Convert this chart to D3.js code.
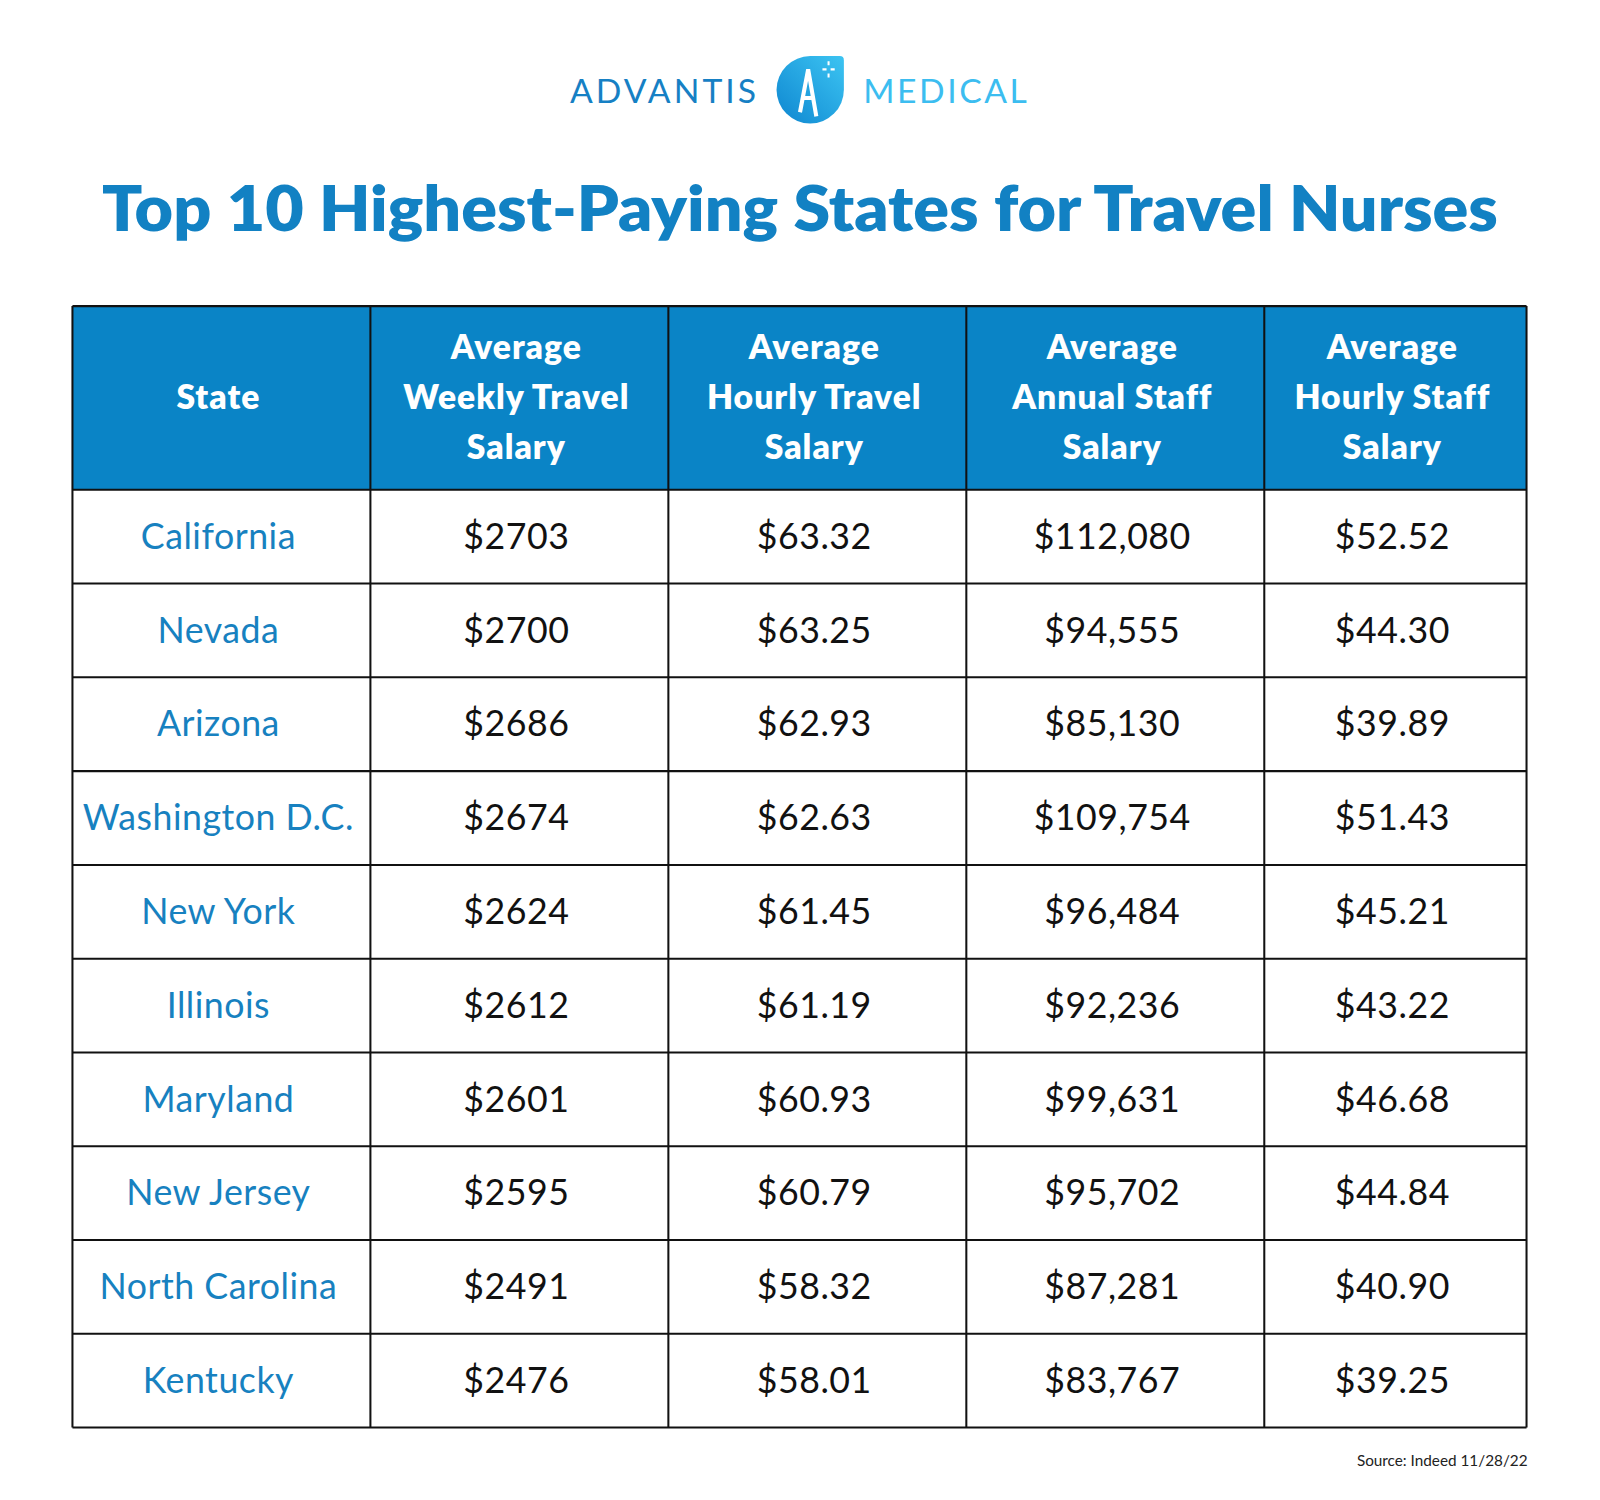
<!DOCTYPE html>
<html><head><meta charset="utf-8">
<script src="https://cdn.jsdelivr.net/npm/d3@7"></script>
<style>body{margin:0;background:#fff}</style>
</head><body>
<svg id="c"></svg>
<script>
const headers = [["State"], ["Average", "Weekly Travel", "Salary"], ["Average", "Hourly Travel", "Salary"], ["Average", "Annual  Staff", "Salary"], ["Average", "Hourly  Staff", "Salary"]];
const states = ["California", "Nevada", "Arizona", "Washington D.C.", "New York", "Illinois", "Maryland", "New Jersey", "North Carolina", "Kentucky"];
const weeklyTravel = ["$2703", "$2700", "$2686", "$2674", "$2624", "$2612", "$2601", "$2595", "$2491", "$2476"];
const hourlyTravel = ["$63.32", "$63.25", "$62.93", "$62.63", "$61.45", "$61.19", "$60.93", "$60.79", "$58.32", "$58.01"];
const annualStaff = ["$112,080", "$94,555", "$85,130", "$109,754", "$96,484", "$92,236", "$99,631", "$95,702", "$87,281", "$83,767"];
const hourlyStaff = ["$52.52", "$44.30", "$39.89", "$51.43", "$45.21", "$43.22", "$46.68", "$44.84", "$40.90", "$39.25"];

const W = 1600, H = 1500;
const root = d3.select("#c").attr("width", W).attr("height", H);
// layout below measured on a 1568-wide view of the design
const svg = root.append("g").attr("transform", `scale(${1600 / 1568})`);
const font = "Lato, 'Open Sans', sans-serif";
const blue = "#0a84c6";

// logo
const logo = svg.append("g");
logo.append("text").attr("x", 744).attr("y", 101).attr("text-anchor", "end")
  .attr("font-family", font).attr("font-size", 33).attr("letter-spacing", 3).attr("fill", "#1680c4").text("ADVANTIS");
logo.append("text").attr("x", 846).attr("y", 101)
  .attr("font-family", font).attr("font-size", 33).attr("letter-spacing", 2.5).attr("fill", "#3cbdf0").text("MEDICAL");
const grad = root.append("defs").append("linearGradient").attr("id", "lg").attr("x1", 0).attr("y1", 1).attr("x2", 1).attr("y2", 0);
grad.append("stop").attr("offset", 0).attr("stop-color", "#0e86d0");
grad.append("stop").attr("offset", 1).attr("stop-color", "#3cc4f2");
const cx = 794, cy = 88, r = 33;
logo.append("path").attr("fill", "url(#lg)")
  .attr("d", `M${cx},${cy - r} L${cx + r - 4},${cy - r} Q${cx + r},${cy - r} ${cx + r},${cy - r + 4} L${cx + r},${cy} A${r},${r} 0 1 1 ${cx},${cy - r} Z`);
logo.append("path").attr("fill", "none").attr("stroke", "#fff").attr("stroke-width", 4)
  .attr("d", `M${cx - 10},${cy + 22} L${cx - 2},${cy - 20} L${cx + 6},${cy + 26} M${cx - 8},${cy + 8} L${cx + 3},${cy + 8}`);
logo.append("path").attr("stroke", "#fff").attr("stroke-width", 2)
  .attr("d", `M${cx + 12},${cy - 20} h4 M${cx + 20},${cy - 20} h4 M${cx + 18},${cy - 28} v4 M${cx + 18},${cy - 16} v4`);

// title
svg.append("text").attr("x", 784).attr("y", 226).attr("text-anchor", "middle")
  .attr("font-family", font).attr("font-weight", 800).attr("font-size", 62).attr("fill", "#1281c3")
  .attr("textLength", 1368).attr("lengthAdjust", "spacingAndGlyphs")
  .text("Top 10 Highest-Paying States for Travel Nurses");

// table
const colEdges = [71, 363, 655, 947, 1239, 1496];
const x = d3.scaleOrdinal().domain(d3.range(5)).range(colEdges.slice(0, 5));
const colW = i => colEdges[i + 1] - colEdges[i];
const headTop = 300, headBot = 480;
const y = d3.scaleBand().domain(states).range([headBot, 1399]);
const cols = [states, weeklyTravel, hourlyTravel, annualStaff, hourlyStaff];

svg.append("rect").attr("x", colEdges[0]).attr("y", headTop).attr("width", colEdges[5] - colEdges[0]).attr("height", headBot - headTop).attr("fill", blue);

headers.forEach((lines, i) => {
  const t = svg.append("text").attr("text-anchor", "middle").attr("font-family", font).attr("font-weight", 800)
    .attr("font-size", 33).attr("letter-spacing", 1).attr("fill", "#fff");
  const mid = (headTop + headBot) / 2, lh = 49;
  lines.forEach((l, k) => {
    t.append("tspan").attr("x", x(i) + colW(i) / 2 - 3).attr("y", mid + 11 + (k - (lines.length - 1) / 2) * lh).text(l);
  });
});

cols.forEach((vals, i) => {
  svg.append("g").selectAll("text").data(vals).join("text")
    .attr("x", x(i) + colW(i) / 2 - 3).attr("y", (d, k) => y(states[k]) + y.bandwidth() / 2 + 12)
    .attr("text-anchor", "middle").attr("font-family", font).attr("font-size", 35).attr("letter-spacing", 0.5)
    .attr("fill", i === 0 ? "#1781c0" : "#111").text(d => d);
});

// grid
const g = svg.append("g").attr("stroke", "#111").attr("stroke-width", 2);
colEdges.forEach(cxv => g.append("line").attr("x1", cxv).attr("x2", cxv).attr("y1", headTop).attr("y2", 1399));
[headTop, ...states.map(s => y(s)), 1399].forEach(yy => g.append("line").attr("x1", colEdges[0]).attr("x2", colEdges[5]).attr("y1", yy).attr("y2", yy));

svg.append("text").attr("x", 1497).attr("y", 1437).attr("text-anchor", "end").attr("font-family", font)
  .attr("font-size", 15).attr("fill", "#222").text("Source: Indeed 11/28/22");
</script>
</body></html>
